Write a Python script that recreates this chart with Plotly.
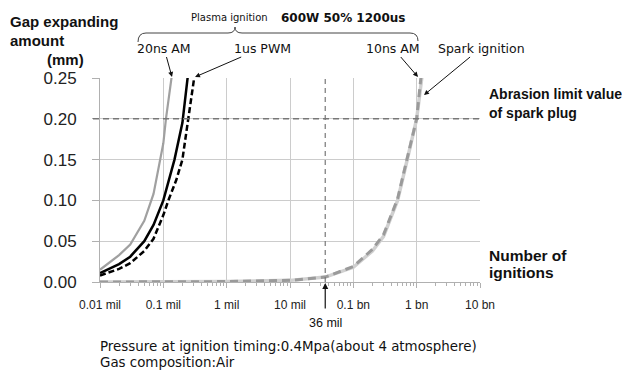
import plotly.graph_objects as go
import math

# ---------------- data ----------------
tick_vals = [1e4, 1e5, 1e6, 1e7, 1e8, 1e9, 1e10]
tick_text = ["0.01 mil", "0.1 mil", "1 mil", "10 mil", "0.1 bn", "1 bn", "10 bn"]
y_ticks = [0.00, 0.05, 0.10, 0.15, 0.20, 0.25]

# Plasma ignition 20ns AM (gray solid)
n_20ns = [1e4, 2e4, 3e4, 5e4, 7e4, 1e5, 1.1e5, 1.4e5]
g_20ns = [0.015, 0.033, 0.046, 0.075, 0.108, 0.17, 0.20, 0.26]

# Plasma ignition (black solid, unlabeled)
n_black = [1e4, 2e4, 3e4, 5e4, 7e4, 1e5, 1.5e5, 2e5, 2.5e5]
g_black = [0.011, 0.022, 0.031, 0.050, 0.070, 0.100, 0.150, 0.195, 0.26]

# Plasma ignition 1us PWM (black dashed)
n_1us = [1e4, 2e4, 3e4, 5e4, 7e4, 1e5, 1.2e5, 1.6e5, 2e5, 2.5e5, 3.2e5]
g_1us = [0.008, 0.016, 0.023, 0.038, 0.053, 0.082, 0.100, 0.125, 0.150, 0.200, 0.26]

# Spark ignition (light gray solid)
n_spark = [1e4, 1e5, 1e6, 1e7, 3.6e7, 1e8, 2e8, 3e8, 5e8, 7e8, 1e9, 1.25e9]
g_spark = [0.0, 0.0, 0.0005, 0.002, 0.006, 0.018, 0.038, 0.056, 0.100, 0.148, 0.200, 0.26]

# Plasma ignition 10ns AM (gray dashed)
n_10ns = [1e4, 1e5, 1e6, 1e7, 3.6e7, 1e8, 2e8, 3e8, 5e8, 7e8, 1e9, 1.2e9]
g_10ns = [0.0, 0.0, 0.0005, 0.002, 0.006, 0.019, 0.040, 0.058, 0.102, 0.150, 0.200, 0.26]

limit_value = 0.20
marker_n = 3.6e7

# ---------------- layout geometry ----------------
W, H = 622, 372
L, R, T, B = 100, 142, 78, 90
PW, PH = W - L - R, H - T - B


def px(x):
    return (x - L) / PW


def py(y):
    return (H - B - y) / PH


LIB = "Liberation Sans, Arial, sans-serif"
DJV = "DejaVu Sans, sans-serif"
INK = "#111111"

fig = go.Figure()

fig.add_trace(go.Scatter(x=n_spark, y=g_spark, mode="lines", name="Spark ignition",
                         line=dict(color="#d0d0d0", width=3.5)))
fig.add_trace(go.Scatter(x=n_10ns, y=g_10ns, mode="lines", name="10ns AM",
                         line=dict(color="#9a9a9a", width=3, dash="8px,5px")))
fig.add_trace(go.Scatter(x=[marker_n, marker_n], y=[0, 0.25], mode="lines",
                         line=dict(color="#777777", width=1.2, dash="5px,4px"),
                         showlegend=False, hoverinfo="skip"))
fig.add_trace(go.Scatter(x=n_20ns, y=g_20ns, mode="lines", name="20ns AM",
                         line=dict(color="#a0a0a0", width=2.2)))
fig.add_trace(go.Scatter(x=n_black, y=g_black, mode="lines", name="Plasma ignition",
                         line=dict(color="#000000", width=2.5)))
fig.add_trace(go.Scatter(x=n_1us, y=g_1us, mode="lines", name="1us PWM",
                         line=dict(color="#000000", width=2.5, dash="6px,3px")))

minor_vals = [k * 10 ** d for d in range(4, 10) for k in range(2, 10)]

fig.update_xaxes(type="log", range=[4, 10], tickvals=tick_vals, ticktext=tick_text,
                 showgrid=True, gridcolor="#cccccc", gridwidth=1,
                 showline=True, linecolor="#b0b0b0", linewidth=1,
                 ticks="outside", ticklen=5, tickcolor="#b0b0b0",
                 minor=dict(tickvals=minor_vals, ticks="outside", ticklen=3,
                            tickcolor="#b0b0b0", showgrid=False),
                 tickfont=dict(family=LIB, size=12, color="#222"),
                 ticklabelstandoff=7, zeroline=False)
fig.update_yaxes(range=[0, 0.25], tickvals=y_ticks, tickformat=".2f",
                 showgrid=True, gridcolor="#cccccc", gridwidth=1,
                 showline=True, linecolor="#b0b0b0", linewidth=1,
                 ticks="outside", ticklen=7, tickcolor="#b0b0b0",
                 tickfont=dict(family=LIB, size=17, color="#222"),
                 ticklabelstandoff=12, zeroline=False)

shapes = [
    # abrasion limit line
    dict(type="line", xref="paper", yref="y", x0=px(93), x1=1, y0=limit_value, y1=limit_value,
         line=dict(color="#777777", width=1.5, dash="6px,4px")),
    # curly brace
    dict(type="path", xref="paper", yref="paper",
         path=(f"M {px(138)},{py(42)} Q {px(138)},{py(33)} {px(146)},{py(33)} "
               f"L {px(228)},{py(33)} Q {px(235)},{py(33)} {px(235)},{py(27)} "
               f"Q {px(235)},{py(33)} {px(242)},{py(33)} "
               f"L {px(410)},{py(33)} Q {px(418)},{py(33)} {px(418)},{py(41)}"),
         line=dict(color="#444444", width=1)),
]


def txt(x, y, s, size, family=DJV, xanchor="left", bold=False):
    return dict(x=px(x), y=py(y), xref="paper", yref="paper", xanchor=xanchor,
                yanchor="middle", text=f"<b>{s}</b>" if bold else s, showarrow=False,
                font=dict(family=family, size=size, color=INK))


def arrow_label(tip_x, tip_y, s, ax, ay):
    return dict(x=px(tip_x), y=py(tip_y), xref="paper", yref="paper", text=s,
                font=dict(family=DJV, size=12.5, color=INK),
                showarrow=True, ax=ax, ay=ay, arrowhead=2, arrowsize=1,
                arrowwidth=1, arrowcolor=INK)


annotations = [
    txt(8, 21, "Gap expanding", 15, LIB, bold=True),
    txt(8, 40, "amount", 15, LIB, bold=True),
    txt(65, 59, "(mm)", 15, LIB, xanchor="center", bold=True),
    txt(189, 18, "Plasma ignition", 10),
    txt(279, 18, "600W 50% 1200us", 12, bold=True),
    txt(487, 94, "Abrasion limit value", 14, LIB, bold=True),
    txt(487, 113, "of spark plug", 14, LIB, bold=True),
    txt(487, 255, "Number of", 15.5, LIB, bold=True),
    txt(487, 272, "ignitions", 15.5, LIB, bold=True),
    arrow_label(172, 77, "20ns AM", -8, -29),
    arrow_label(195, 77, "1us PWM", 67, -29),
    arrow_label(418, 77, "10ns AM", -25, -29),
    arrow_label(424, 95, "Spark ignition", 57, -47),
    # 36 mil marker
    dict(x=math.log10(marker_n), y=0, xref="x", yref="y", text="", showarrow=True,
         ax=0, ay=28, arrowhead=2, arrowsize=1, arrowwidth=1.2, arrowcolor=INK, standoff=1),
    dict(x=math.log10(marker_n), y=py(323), xref="x", yref="paper", text="36 mil",
         showarrow=False, xanchor="center", yanchor="middle",
         font=dict(family=LIB, size=12.5, color=INK)),
    txt(98, 346, "Pressure at ignition timing:0.4Mpa(about 4 atmosphere)", 13.4),
    txt(98, 362, "Gas composition:Air", 13.4),
]

fig.update_layout(width=W, height=H, margin=dict(l=L, r=R, t=T, b=B),
                  paper_bgcolor="white", plot_bgcolor="white", showlegend=False,
                  shapes=shapes, annotations=annotations)

fig.write_html("out.html", config={"displayModeBar": False},
               post_script="document.body.style.margin='0';document.body.style.padding='0';")
